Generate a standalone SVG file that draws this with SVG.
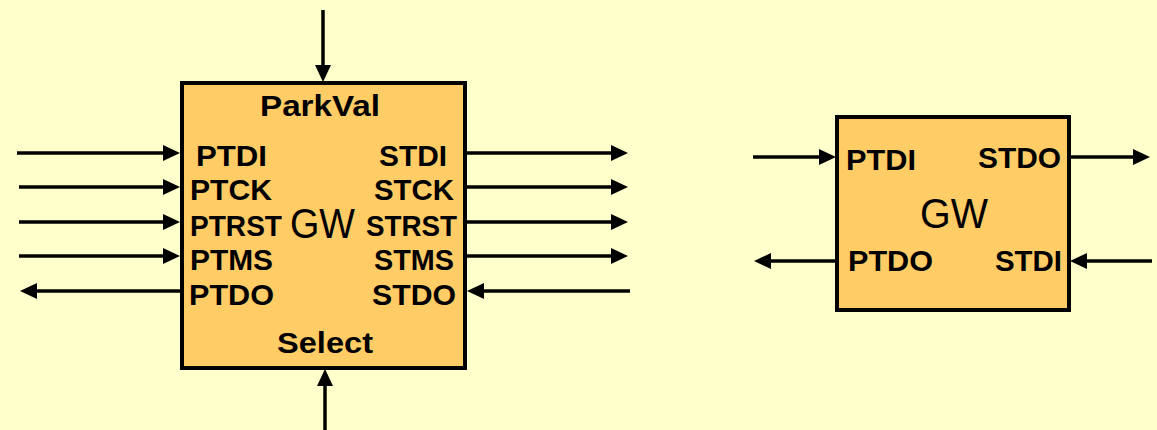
<svg xmlns="http://www.w3.org/2000/svg" width="1157" height="430" viewBox="0 0 1157 430">
<style>
.box{fill:#FFCC66;stroke:#000;stroke-width:4}
.w{stroke:#000;stroke-width:3.5;fill:none;marker-end:url(#ah)}
.l{font-family:"Liberation Sans",Arial,sans-serif;font-weight:bold;font-size:30px;fill:#000}
.g{font-family:"Liberation Sans",Arial,sans-serif;font-size:43px;fill:#000}
.s{text-anchor:start}.e{text-anchor:end}.m{text-anchor:middle}
</style>
<defs>
<marker id="ah" viewBox="0 0 17 16" refX="9" refY="8" markerWidth="17" markerHeight="16" markerUnits="userSpaceOnUse" orient="auto">
<path d="M0,0 L17,8 L0,16 z" fill="#000"/>
</marker>
</defs>
<rect width="1157" height="430" fill="#FFFFCC"/>
<g id="connectors">
<line class="w" x1="323" y1="10" x2="323" y2="74"/>
<line class="w" x1="325" y1="430" x2="325" y2="377"/>
<line class="w" x1="17" y1="153" x2="172" y2="153"/>
<line class="w" x1="19" y1="187" x2="172" y2="187"/>
<line class="w" x1="19" y1="222" x2="172" y2="222"/>
<line class="w" x1="19" y1="256" x2="172" y2="256"/>
<line class="w" x1="182" y1="291" x2="28" y2="291"/>
<line class="w" x1="467" y1="153" x2="620" y2="153"/>
<line class="w" x1="467" y1="187" x2="620" y2="187"/>
<line class="w" x1="467" y1="222" x2="620" y2="222"/>
<line class="w" x1="467" y1="256" x2="620" y2="256"/>
<line class="w" x1="630" y1="291" x2="475" y2="291"/>
<line class="w" x1="753" y1="157" x2="828" y2="157"/>
<line class="w" x1="1070" y1="157" x2="1142" y2="157"/>
<line class="w" x1="837" y1="261" x2="762" y2="261"/>
<line class="w" x1="1152" y1="261" x2="1078" y2="261"/>
</g>
<g id="gw1">
<rect class="box" x="182" y="83" width="283" height="285"/>
<text class="l s" x="260" y="116" textLength="120" lengthAdjust="spacingAndGlyphs">ParkVal</text>
<text class="l s" x="277" y="353" textLength="96" lengthAdjust="spacingAndGlyphs">Select</text>
<text class="g s" x="290" y="238" textLength="65" lengthAdjust="spacingAndGlyphs">GW</text>
<text class="l s" x="196" y="166" textLength="71" lengthAdjust="spacingAndGlyphs">PTDI</text>
<text class="l s" x="190" y="200" textLength="82" lengthAdjust="spacingAndGlyphs">PTCK</text>
<text class="l s" x="190" y="236" textLength="92" lengthAdjust="spacingAndGlyphs">PTRST</text>
<text class="l s" x="190" y="270" textLength="83" lengthAdjust="spacingAndGlyphs">PTMS</text>
<text class="l s" x="189" y="305" textLength="85" lengthAdjust="spacingAndGlyphs">PTDO</text>
<text class="l s" x="379" y="166" textLength="68" lengthAdjust="spacingAndGlyphs">STDI</text>
<text class="l s" x="374" y="200" textLength="80" lengthAdjust="spacingAndGlyphs">STCK</text>
<text class="l s" x="366" y="236" textLength="91" lengthAdjust="spacingAndGlyphs">STRST</text>
<text class="l s" x="374" y="270" textLength="80" lengthAdjust="spacingAndGlyphs">STMS</text>
<text class="l s" x="372" y="305" textLength="84" lengthAdjust="spacingAndGlyphs">STDO</text>
</g>
<g id="gw2">
<rect class="box" x="837" y="117" width="232" height="193"/>
<text class="l s" x="846" y="170" textLength="70" lengthAdjust="spacingAndGlyphs">PTDI</text>
<text class="l s" x="978" y="168" textLength="83" lengthAdjust="spacingAndGlyphs">STDO</text>
<text class="g s" x="920" y="228" textLength="68" lengthAdjust="spacingAndGlyphs">GW</text>
<text class="l s" x="848" y="271" textLength="85" lengthAdjust="spacingAndGlyphs">PTDO</text>
<text class="l s" x="995" y="271" textLength="67" lengthAdjust="spacingAndGlyphs">STDI</text>
</g>
</svg>
